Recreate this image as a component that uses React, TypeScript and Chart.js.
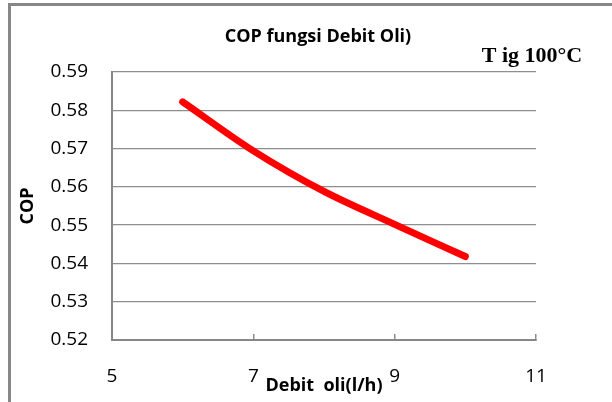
import { useEffect, useRef } from "react";
import { Chart, registerables } from "chart.js";

Chart.register(...registerables);

// Oil flow rate (l/h) and the resulting coefficient of performance
const debitOli = [6, 7, 8, 9, 10];
const copValues = [0.5822, 0.5694, 0.5588, 0.5502, 0.5418];

// Axis ticks
const xTickValues = [5, 7, 9, 11];
const yTickValues = [0.52, 0.53, 0.54, 0.55, 0.56, 0.57, 0.58, 0.59];

// Texts
const chartTitle = "COP fungsi Debit Oli)";
const tempLabel = "T ig 100°C";
const xAxisTitle = "Debit  oli(l/h)";
const yAxisTitle = "COP";

const GRID = "#8e8e8e";
const AXIS = "#878787";
const SANS = '"Open Sans", "Liberation Sans", sans-serif';

const textPlugin = {
  id: "chartTexts",
  afterDraw(chart: any) {
    const { ctx } = chart;
    ctx.save();
    ctx.fillStyle = "#000";
    ctx.textAlign = "center";
    ctx.textBaseline = "middle";
    ctx.font = `bold 18px ${SANS}`;
    ctx.fillText(chartTitle, 318, 37);
    ctx.font = 'bold 22px "Liberation Serif", "Times New Roman", serif';
    ctx.fillText(tempLabel, 532, 56);
    ctx.restore();
  },
};

export default function App() {
  const canvasRef = useRef<HTMLCanvasElement | null>(null);

  useEffect(() => {
    const canvas = canvasRef.current;
    if (!canvas) return;
    const chart = new Chart(canvas, {
      type: "line",
      data: {
        datasets: [
          {
            label: yAxisTitle,
            data: debitOli.map((x, i) => ({ x, y: copValues[i] })),
            borderColor: "#ff0000",
            backgroundColor: "#ff0000",
            borderWidth: 7,
            borderCapStyle: "round",
            borderJoinStyle: "round",
            pointRadius: 0,
            cubicInterpolationMode: "monotone",
            fill: false,
            clip: false,
          },
        ],
      },
      options: {
        responsive: false,
        animation: false,
        devicePixelRatio: 1,
        layout: { padding: { top: 72, right: 76, bottom: 0, left: 0 } },
        plugins: {
          legend: { display: false },
          title: { display: false },
          tooltip: { enabled: false },
        },
        scales: {
          x: {
            type: "linear",
            min: 5,
            max: 11,
            afterBuildTicks: (scale: any) => {
              scale.ticks = xTickValues.map((value) => ({ value }));
            },
            afterFit: (scale: any) => {
              scale.height = 62;
            },
            grid: {
              display: true,
              drawOnChartArea: false,
              drawTicks: true,
              tickLength: -6,
              color: GRID,
              lineWidth: 1.5,
            },
            border: { display: true, color: AXIS, width: 2 },
            ticks: {
              color: "#000",
              padding: 31,
              maxRotation: 0,
              font: { family: SANS, size: 19 },
              callback: (v: any) => String(v),
            },
            title: {
              display: true,
              text: xAxisTitle,
              color: "#000",
              font: { family: SANS, size: 18, weight: "bold" },
              padding: { top: 0, bottom: 5 },
            },
          },
          y: {
            type: "linear",
            min: 0.52,
            max: 0.59,
            afterBuildTicks: (scale: any) => {
              scale.ticks = yTickValues.map((value) => ({ value }));
            },
            afterFit: (scale: any) => {
              scale.width = 112;
            },
            grid: {
              display: true,
              drawTicks: false,
              color: GRID,
              lineWidth: 1.3,
            },
            border: { display: true, color: AXIS, width: 2 },
            ticks: {
              color: "#000",
              padding: 24,
              font: { family: SANS, size: 19 },
              callback: (v: any) => Number(v).toFixed(2),
            },
            title: {
              display: true,
              text: yAxisTitle,
              color: "#000",
              font: { family: SANS, size: 18, weight: "bold" },
              padding: { top: 17, bottom: 0 },
            },
          },
        },
      } as any,
      plugins: [textPlugin],
    });
    return () => chart.destroy();
  }, []);

  return (
    <div
      style={{
        position: "fixed",
        left: 0,
        top: 0,
        width: 612,
        height: 402,
        overflow: "hidden",
        background: "#fff",
      }}
    >
      <div
        style={{
          position: "absolute",
          left: 8,
          top: 3,
          width: 700,
          height: 500,
          borderLeft: `3px solid ${AXIS}`,
          borderTop: `3px solid ${AXIS}`,
        }}
      />
      <canvas
        ref={canvasRef}
        width={612}
        height={402}
        style={{ position: "absolute", left: 0, top: 0, width: 612, height: 402 }}
      />
    </div>
  );
}
